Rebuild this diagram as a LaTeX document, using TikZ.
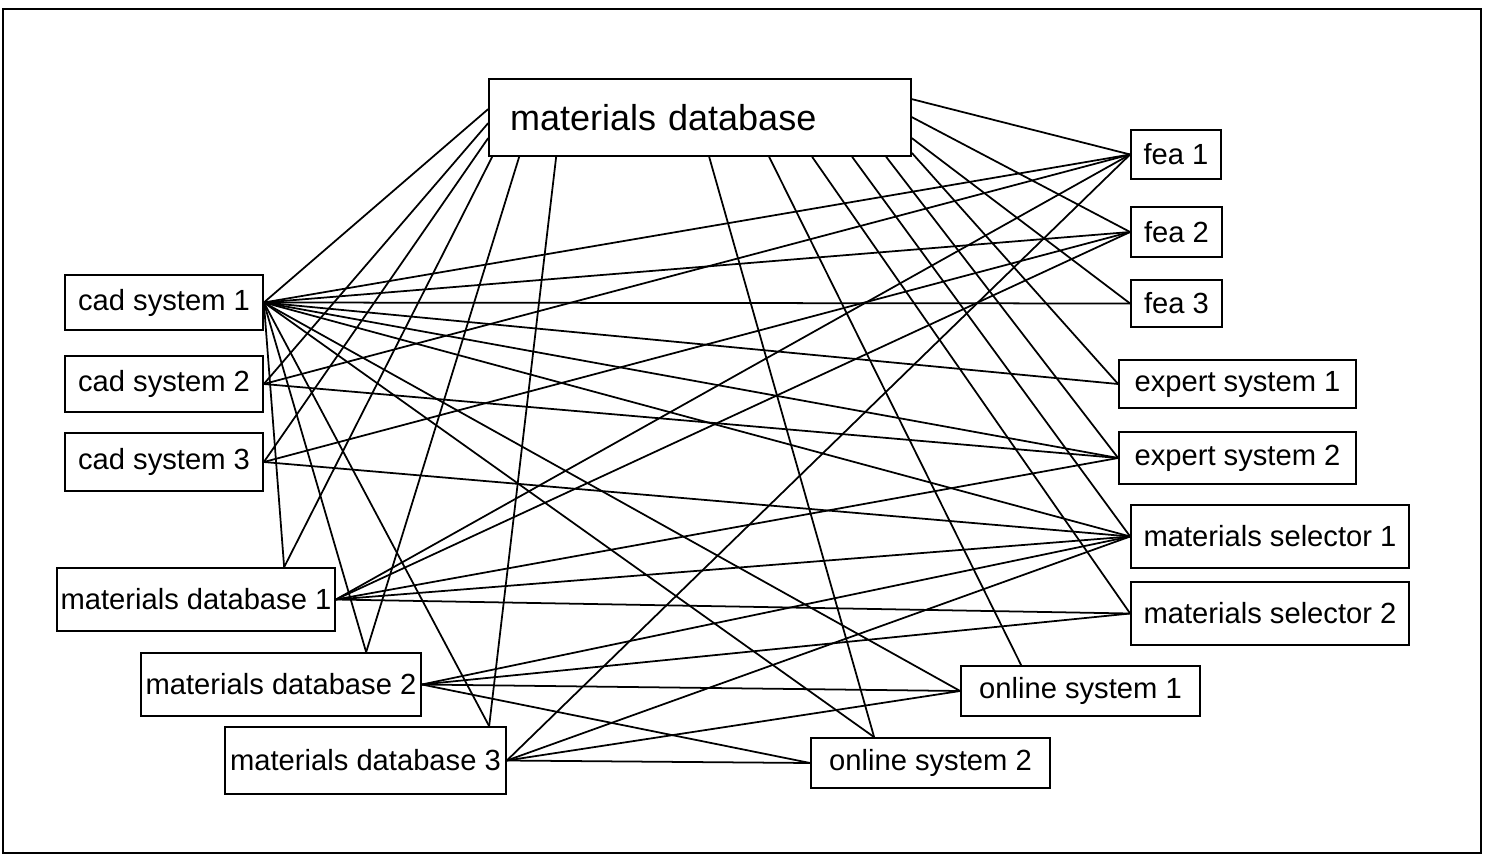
\documentclass[tikz,border=0pt]{standalone}
\usepackage{fontspec}
\setmainfont{Liberation Sans}
\usepackage{tikz}
\usetikzlibrary{calc}
\tikzstyle{box}  = [draw, line width=1pt, inner sep=0pt, font=\fontsize{16.6}{19}\selectfont]
\tikzstyle{link} = [line width=1pt]

\begin{document}
\begin{tikzpicture}[x=0.02cm, y=-0.02cm]
        \useasboundingbox (0,0) rectangle (1485,856);
        \draw[line width=0.8pt] (3,9) rectangle (1481,853);

        % central database
        \node[box, minimum width=8.44cm, minimum height=1.54cm, text width=7.6cm, align=left,
              font=\fontsize{20.5}{24}\selectfont] (mdb) at (700,117.5) {materials database};

        % left column
        \node[box, minimum width=3.96cm, minimum height=1.10cm] (cad1) at (164,302.5) {cad system 1};
        \node[box, minimum width=3.96cm, minimum height=1.12cm] (cad2) at (164,384) {cad system 2};
        \node[box, minimum width=3.96cm, minimum height=1.16cm] (cad3) at (164,462) {cad system 3};
        \node[box, minimum width=5.56cm, minimum height=1.26cm] (md1) at (196,599.5) {materials database 1};
        \node[box, minimum width=5.60cm, minimum height=1.26cm] (md2) at (281,684.5) {materials database 2};
        \node[box, minimum width=5.62cm, minimum height=1.34cm] (md3) at (365.5,760.5) {materials database 3};

        % right column
        \node[box, minimum width=1.80cm, minimum height=0.98cm] (fea1) at (1176,154.5) {fea 1};
        \node[box, minimum width=1.82cm, minimum height=1.00cm] (fea2) at (1176.5,232) {fea 2};
        \node[box, minimum width=1.82cm, minimum height=0.94cm] (fea3) at (1176.5,303.5) {fea 3};
        \node[box, minimum width=4.74cm, minimum height=0.96cm] (exp1) at (1237.5,384) {expert system 1};
        \node[box, minimum width=4.74cm, minimum height=1.04cm] (exp2) at (1237.5,458) {expert system 2};
        \node[box, minimum width=5.56cm, minimum height=1.26cm] (ms1) at (1270,536.5) {materials selector 1};
        \node[box, minimum width=5.56cm, minimum height=1.26cm] (ms2) at (1270,613.5) {materials selector 2};
        \node[box, minimum width=4.78cm, minimum height=1.00cm] (os1) at (1080.5,691) {online system 1};
        \node[box, minimum width=4.78cm, minimum height=1.00cm] (os2) at (930.5,763) {online system 2};

        % where the lines meet the big box
        \coordinate (mdbL1) at ($(mdb.north west)+(0,31)$);
        \coordinate (mdbL2) at ($(mdb.north west)+(0,45)$);
        \coordinate (mdbL3) at ($(mdb.north west)+(0,60)$);
        \coordinate (mdbB0) at ($(mdb.south west)+(4,0)$);
        \coordinate (mdbB1) at ($(mdb.south west)+(31,0)$);
        \coordinate (mdbB2) at ($(mdb.south west)+(68,0)$);
        \coordinate (mdbB3) at ($(mdb.south west)+(221,0)$);
        \coordinate (mdbB4) at ($(mdb.south west)+(281,0)$);
        \coordinate (mdbB5) at ($(mdb.south west)+(324,0)$);
        \coordinate (mdbB6) at ($(mdb.south west)+(364,0)$);
        \coordinate (mdbB7) at ($(mdb.south west)+(398,0)$);
        \coordinate (mdbB8) at ($(mdb.south east)+(0,-4)$);
        \coordinate (mdbR1) at ($(mdb.north east)+(0,21)$);
        \coordinate (mdbR2) at ($(mdb.north east)+(0,39)$);
        \coordinate (mdbR3) at ($(mdb.north east)+(0,60)$);
        % lines that end on a top edge
        \coordinate (md1top) at ($(md1.north west)+(228,0)$);
        \coordinate (md2top) at ($(md2.north west)+(226,0)$);
        \coordinate (md3top) at ($(md3.north west)+(265,0)$);
        \coordinate (os1top) at ($(os1.north west)+(61,0)$);
        \coordinate (os2top) at ($(os2.north west)+(64,0)$);

        \foreach \a/\b in {mdbL1/cad1.east, mdbL2/cad2.east, mdbL3/cad3.east, mdbB0/md1top,
                           mdbB1/md2top, mdbB2/md3top, mdbB3/os2top, mdbB4/os1top,
                           mdbB5/ms2.west, mdbB6/ms1.west, mdbB7/exp2.west, mdbB8/exp1.west,
                           mdbR1/fea1.west, mdbR2/fea2.west, mdbR3/fea3.west}
            \draw[link] (\a) -- (\b);

        \foreach \t in {fea1.west,fea2.west,fea3.west,exp1.west,exp2.west,ms1.west,os1.west,
                        os2top,md1top,md2top,md3top}
            \draw[link] (cad1.east) -- (\t);
        \foreach \t in {fea1,exp2}
            \draw[link] (cad2.east) -- (\t.west);
        \foreach \t in {fea2,ms1}
            \draw[link] (cad3.east) -- (\t.west);
        \foreach \t in {fea1,fea2,exp2,ms1,ms2}
            \draw[link] (md1.east) -- (\t.west);
        \foreach \t in {ms1,ms2,os1,os2}
            \draw[link] (md2.east) -- (\t.west);
        \foreach \t in {fea1,ms1,os1,os2}
            \draw[link] (md3.east) -- (\t.west);
    \end{tikzpicture}
\end{document}
